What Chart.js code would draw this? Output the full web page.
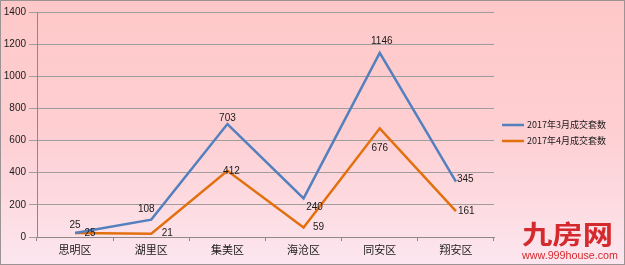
<!DOCTYPE html>
<html><head><meta charset="utf-8">
<script src="https://cdn.jsdelivr.net/npm/chart.js@4/dist/chart.umd.min.js"></script>
<style>
html,body{margin:0;padding:0;background:#fff;}
#wrap{position:relative;width:625px;height:265px;box-sizing:border-box;}
canvas{display:block;}
</style></head><body>
<div id="wrap"><canvas id="c" width="625" height="265"></canvas></div>
<script>
const categories = ['思明区','湖里区','集美区','海沧区','同安区','翔安区'];
const seriesNames = ['2017年3月成交套数','2017年4月成交套数'];
const marchValues = [25,108,703,240,1146,345];
const aprilValues = [25,21,412,59,676,161];
const yTicks = [0,200,400,600,800,1000,1200,1400];

const colors = ['#5580BE','#E3700F'];
// label offsets (styling) per dataset/point: [dx, dy, align]
const labelOffsets = [
  [[0,-8,'center'],[-5,-10,'center'],[0,-6,'center'],[11,9,'center'],[2,-12,'center'],[1,-2,'left']],
  [[15,0,'center'],[16,0,'center'],[4,0,'center'],[15,0,'center'],[0,20,'center'],[2,0,'left']]
];

const bgPlugin = {
  id:'bg',
  beforeDraw(chart){
    const ctx=chart.ctx, w=chart.width, h=chart.height;
    const g=ctx.createLinearGradient(0,0,0,h);
    g.addColorStop(0,'#FFC8C8');
    g.addColorStop(0.5,'#FECFD2');
    g.addColorStop(1,'#FCE6EF');
    ctx.save();
    ctx.fillStyle=g; ctx.fillRect(0,0,w,h);
    ctx.strokeStyle='#9C9494'; ctx.lineWidth=1;
    ctx.strokeRect(0.5,0.5,w-1,h-1);
    ctx.restore();
  }
};

const labelPlugin = {
  id:'labels',
  afterDatasetsDraw(chart){
    const ctx=chart.ctx;
    ctx.save();
    ctx.font='10px "Liberation Sans", Arial, sans-serif';
    ctx.fillStyle='#1a1a1a';
    ctx.textBaseline='middle';
    chart.data.datasets.forEach((ds,di)=>{
      const meta=chart.getDatasetMeta(di);
      meta.data.forEach((pt,i)=>{
        const o=labelOffsets[di][i];
        ctx.textAlign=o[2];
        ctx.fillText(String(ds.data[i]), pt.x+o[0], pt.y+o[1]);
      });
    });
    ctx.restore();
  }
};

const legendPlugin = {
  id:'customLegend',
  afterDraw(chart){
    const ctx=chart.ctx;
    ctx.save();
    ctx.font='9px "Noto Sans CJK SC", sans-serif';
    ctx.textBaseline='middle';
    ctx.textAlign='left';
    chart.data.datasets.forEach((ds,di)=>{
      const y=125+di*16;
      ctx.strokeStyle=ds.borderColor; ctx.lineWidth=2.5;
      ctx.beginPath(); ctx.moveTo(502,y); ctx.lineTo(524,y); ctx.stroke();
      ctx.fillStyle='#1a1a1a';
      ctx.fillText(ds.label,527,y);
    });
    // watermark
    ctx.fillStyle='#D42A2E';
    ctx.font='bold 28px "Noto Sans CJK SC", sans-serif';
    ctx.textBaseline='middle';
    const tw=ctx.measureText('九房网').width;
    ctx.save();
    ctx.translate(522,234);
    ctx.scale(91/tw,0.92);
    ctx.fillText('九房网',0,0);
    ctx.restore();
    ctx.font='11px "Liberation Sans", Arial, sans-serif';
    const uw=ctx.measureText('www.999house.com').width;
    ctx.save();
    ctx.translate(522,256);
    ctx.scale(96/uw,1);
    ctx.fillText('www.999house.com',0,0);
    ctx.restore();
    ctx.restore();
  }
};

new Chart(document.getElementById('c'),{
  type:'line',
  data:{
    labels:categories,
    datasets:[
      {label:seriesNames[0],data:marchValues,borderColor:colors[0],backgroundColor:colors[0],borderWidth:2.5,pointRadius:0,tension:0},
      {label:seriesNames[1],data:aprilValues,borderColor:colors[1],backgroundColor:colors[1],borderWidth:2.5,pointRadius:0,tension:0}
    ]
  },
  options:{
    responsive:false,
    animation:false,
    devicePixelRatio:1,
    layout:{padding:{left:0,top:12,right:131,bottom:0}},
    plugins:{legend:{display:false},tooltip:{enabled:false}},
    scales:{
      x:{
        type:'category',
        offset:true,
        afterFit(s){s.height=28;},
        grid:{offset:true,drawOnChartArea:false,drawTicks:true,tickLength:4,color:'#8E8888'},
        border:{display:true,color:'#8E8888',width:1},
        ticks:{color:'#1a1a1a',font:{family:'"Noto Sans CJK SC", sans-serif',size:11},padding:2}
      },
      y:{
        min:0,max:1400,
        afterFit(s){s.width=37;},
        afterBuildTicks(s){s.ticks=yTicks.map(v=>({value:v}));},
        grid:{color:'#A39C9C',lineWidth:1,drawTicks:true,tickLength:8},
        border:{display:true,color:'#8E8888',width:1},
        ticks:{color:'#1a1a1a',font:{family:'"Liberation Sans Narrow", "Liberation Sans", Arial, sans-serif',size:10},padding:3,callback:(v)=>String(v)}
      }
    }
  },
  plugins:[bgPlugin,labelPlugin,legendPlugin]
});
</script>
</body></html>
